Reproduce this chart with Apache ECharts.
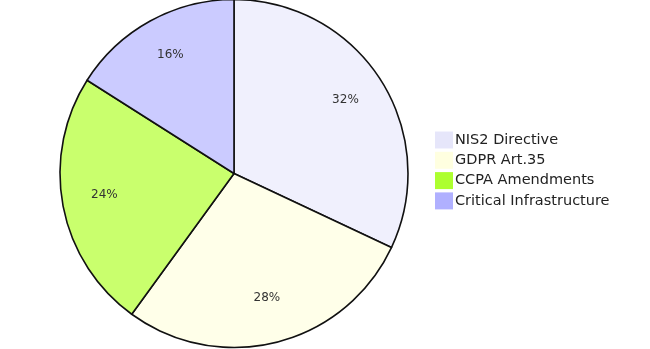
<!DOCTYPE html>
<html><head><meta charset="utf-8">
<script src="https://cdn.jsdelivr.net/npm/echarts@6/dist/echarts.min.js"></script>
<style>html,body{margin:0;padding:0;background:#fff}#c{width:650px;height:349px}</style>
</head><body><div id="c"></div>
<script>
const categories = ["NIS2 Directive", "GDPR Art.35", "CCPA Amendments", "Critical Infrastructure"];
const values = [32, 28, 24, 16];
const colors = ["#e6e6fa", "#ffffe0", "#adff2f", "#b0b0ff"];
const fills = ["#f0f0fd", "#ffffe9", "#c9ff6d", "#cbcbff"];

const chart = echarts.init(document.getElementById('c'), null, {renderer: 'canvas'});
const data = categories.map((n, i) => ({name: n, value: values[i], itemStyle: {color: fills[i]}}));
const labelData = categories.map((n, i) => ({name: n, value: values[i]}));
chart.setOption({
  animation: false,
  color: colors,
  legend: {
    orient: 'vertical', left: 430, top: 126.5, padding: 5,
    itemWidth: 18, itemHeight: 17, itemGap: 3.3,
    icon: 'rect',
    itemStyle: {borderWidth: 0},
    data: categories.map((n, i) => ({name: n, itemStyle: {color: colors[i], borderWidth: 0}})),
    textStyle: {fontFamily: 'DejaVu Sans', fontSize: 14.5, lineHeight: 17, color: '#222', padding: [0,0,0,-3]}
  },
  series: [{
    type: 'pie', center: [234, 173.5], radius: [0, 174],
    startAngle: 90, clockwise: true,
    label: {show: false}, labelLine: {show: false},
    itemStyle: {borderColor: '#111', borderWidth: 1.6},
    emphasis: {disabled: true},
    data: data
  }, {
    type: 'pie', center: [234, 170.5], radius: [84, 174],
    startAngle: 90, clockwise: true, silent: true,
    itemStyle: {color: 'rgba(0,0,0,0)', borderWidth: 0},
    label: {show: true, position: 'inside', formatter: p => p.value + '%', fontFamily: 'DejaVu Sans', fontSize: 12, color: '#333'},
    labelLine: {show: false},
    emphasis: {disabled: true},
    data: labelData
  }]
});
</script></body></html>
